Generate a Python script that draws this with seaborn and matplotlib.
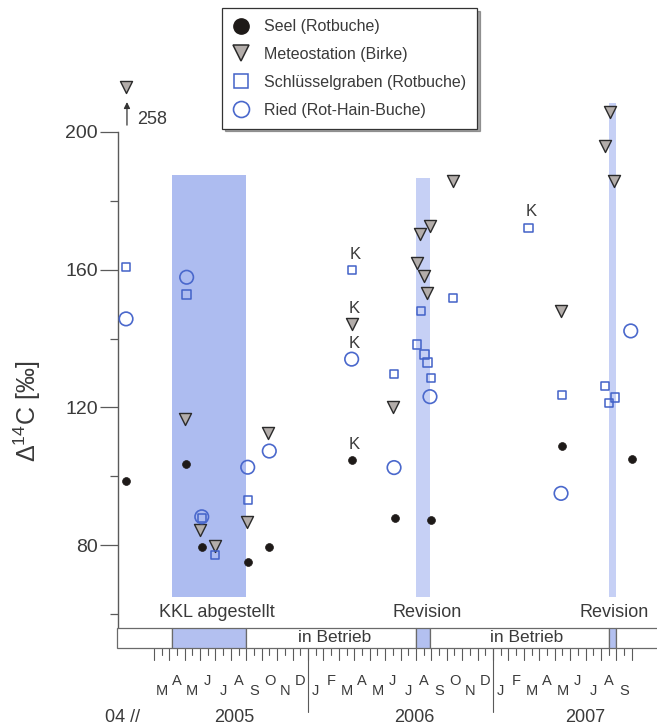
import numpy as np
import pandas as pd
import matplotlib
matplotlib.use("Agg")
import matplotlib.pyplot as plt
from matplotlib.lines import Line2D
from matplotlib.patches import Rectangle
import seaborn as sns

sns.set_theme(style="white")
plt.rcParams["font.family"] = ["Liberation Sans", "DejaVu Sans"]
plt.rcParams["mathtext.default"] = "regular"

# Time axis in months since 1 Jan 2005; the 2004 sample sits just right of the axis break.
seel_t = [0.2, 4.09, 5.11, 8.09, 9.49, 14.83, 17.64, 19.96, 28.47, 32.98]
seel_v = [98.7, 103.4, 79.3, 75.2, 79.5, 104.7, 87.8, 87.4, 108.8, 104.9]

meteo_t = [0.2, 4.02, 5.0, 5.97, 8.02, 9.43, 14.83, 17.53, 19.05, 19.26, 19.52,
           19.74, 19.91, 21.38, 28.41, 31.26, 31.58, 31.84]
meteo_v = [258, 116.5, 84.4, 79.7, 86.8, 112.6, 144.1, 120.2, 162.0, 170.4, 158.2,
           153.3, 172.7, 185.9, 148.1, 195.9, 205.9, 185.9]

schl_t = [0.2, 4.13, 5.13, 5.97, 8.09, 14.87, 17.58, 19.09, 19.33, 19.55, 19.76,
          19.96, 21.42, 26.29, 28.47, 31.26, 31.54, 31.9]
schl_v = [160.7, 152.8, 87.9, 77.1, 93.1, 159.9, 129.6, 138.3, 148.0, 135.4, 133.0,
          128.6, 151.7, 172.2, 123.6, 126.2, 121.2, 122.9]

ried_t = [0.2, 4.13, 5.11, 8.09, 9.49, 14.83, 17.58, 19.91, 28.41, 32.93]
ried_v = [145.7, 157.8, 88.2, 102.6, 107.3, 134.0, 102.5, 123.1, 95.0, 142.2]

# Samples marked "K"
k_t = [14.87, 14.83, 14.83, 14.83, 26.29]
k_v = [159.9, 144.1, 134.0, 104.7, 172.2]

# Reactor shutdown periods (start, end in months), shading top and label
off_start = [3.15, 19.0, 31.5]
off_end = [8.0, 19.9, 32.0]
off_top = [187.5, 186.6, 208.5]
off_label = ["KKL abgestellt", "Revision", "Revision"]
off_label_t = [6.1, 19.7, 31.85]
off_colors = ["#adbcf0", "#c6d0f5", "#c6d0f5"]
band_bottom = 64.8

on_label_t = [13.7, 26.2]

months = "JFMAMJJASOND"
years = ["2005", "2006", "2007"]
year_label_t = [7.2, 18.9, 30.0]

cap = 213.0  # values above are drawn at the cap with an arrow

W, H = 657, 726
fig = plt.figure(figsize=(W / 100, H / 100), dpi=100)
fig.patch.set_facecolor("white")


def px_axes(left, top, right, bottom):
    return fig.add_axes([left / W, 1 - bottom / H, (right - left) / W, (bottom - top) / H])


def y_val(row):
    return 200 - (row - 132) / 3.4417


def t_val(col):
    return 12 + (col - 308) / 15.42


ax = px_axes(118, 20, 657, 628)
xlim = (t_val(118), t_val(657))
ax.set_xlim(*xlim)
ax.set_ylim(y_val(628), y_val(20))
ax.set_facecolor("white")

txt = "#3a3a3a"
line_c = "#5a5a5a"

# shading for shutdown periods
for s, e, top, col in zip(off_start, off_end, off_top, off_colors):
    ax.fill_between([s, e], band_bottom, top, color=col, lw=0, zorder=1)
for lt, lab in zip(off_label_t, off_label):
    ax.text(lt, y_val(613), lab, ha="center", va="center", fontsize=13, color=txt)

meteo_plot = np.minimum(np.array(meteo_v, dtype=float), cap)

sns.scatterplot(x=seel_t, y=seel_v, ax=ax, marker="o", s=32, color="#1e1a18",
                edgecolor="#1e1a18", linewidth=0.5, zorder=4, legend=False)
sns.scatterplot(x=meteo_t, y=meteo_plot, ax=ax, marker="v", s=75, color="#b3adaa",
                edgecolor="#2a2a2a", linewidth=1.0, zorder=4, legend=False)
sns.scatterplot(x=schl_t, y=schl_v, ax=ax, marker="s", s=36, color="#4262c8",
                facecolor="none", edgecolor="#4262c8", linewidth=1.1, zorder=4, legend=False)
sns.scatterplot(x=ried_t, y=ried_v, ax=ax, marker="o", s=95, color="#4a68cc",
                facecolor="none", edgecolor="#4a68cc", linewidth=1.2, zorder=4, legend=False)

# off-scale values
for t, v in zip(meteo_t, meteo_v):
    if v > cap:
        ax.annotate("", xy=(t + 0.06, cap - 4.3), xytext=(t + 0.06, cap - 11),
                    arrowprops=dict(arrowstyle="-|>", color="#333333", lw=0.9,
                                    mutation_scale=9, shrinkA=0, shrinkB=0))
        ax.text(t + 0.7, cap - 9.5, f"{v:g}", ha="left", va="center", fontsize=13, color=txt)

for t, v in zip(k_t, k_v):
    ax.annotate("K", xy=(t, v), xytext=(2, 11.5), textcoords="offset points",
                ha="center", va="center", fontsize=12, color=txt)

# y axis
for side in ["top", "right", "bottom"]:
    ax.spines[side].set_visible(False)
ax.spines["left"].set_color(line_c)
ax.spines["left"].set_linewidth(1.0)
ax.spines["left"].set_bounds(y_val(628), 200)
ax.set_yticks([80, 120, 160, 200])
ax.set_yticks([60, 100, 140, 180], minor=True)
ax.tick_params(axis="y", which="major", left=True, length=13, width=0.9, color=line_c,
               labelsize=14, labelcolor=txt, pad=1.5)
ax.tick_params(axis="y", which="minor", left=True, length=6, width=0.9, color=line_c)
ax.set_xticks([])
ax.grid(False)
ax.set_xlabel("")
ax.set_ylabel("")
fig.text(27 / W, 1 - 411 / H, "Δ$^{14}$C [‰]", rotation=90, ha="center", va="center",
         fontsize=18, color=txt)

# timeline strip below the plot (y measured in pixel rows)
tl = px_axes(118, 628, 657, 726)
tl.set_xlim(*xlim)
tl.set_ylim(726, 628)
tl.axis("off")

bounds = [t_val(117)] + [b for pair in zip(off_start, off_end) for b in pair] + [xlim[1] + 1]
for i in range(len(bounds) - 1):
    is_off = i % 2 == 1
    tl.add_patch(Rectangle((bounds[i], 628.5), bounds[i + 1] - bounds[i], 19.5,
                           facecolor="#b3c0f0" if is_off else "white",
                           edgecolor="#6a6a6a", lw=0.9, clip_on=False, zorder=2))
for lt in on_label_t:
    tl.text(lt, 638, "in Betrieb", ha="center", va="center", fontsize=12.5,
            color=txt, zorder=3)

# half-month ticks
for k in range(2 * 2, 2 * 33 + 1):
    t = k / 2
    tl.plot([t, t], [648, 660 if k % 2 == 0 else 655], color=line_c, lw=0.8,
            clip_on=False, zorder=1)
# year separators
for t in [12, 24]:
    tl.plot([t, t], [648, 712], color=line_c, lw=0.8, clip_on=False, zorder=1)
# month letters, staggered
for m in range(2, 33):
    tl.text(m + 0.5, 691 if m % 2 == 0 else 681, months[m % 12], ha="center",
            va="center", fontsize=10.5, color=txt)
for yt, yl in zip(year_label_t, years):
    tl.text(yt, 718, yl, ha="center", va="center", fontsize=13, color=txt)
tl.text(t_val(123), 718, "04 //", ha="center", va="center", fontsize=13, color=txt,
        clip_on=False)

# legend
handles = [
    Line2D([], [], ls="none", marker="o", markersize=11, mfc="#1e1a18", mec="#1e1a18"),
    Line2D([], [], ls="none", marker="v", markersize=12, mfc="#b3adaa", mec="#2a2a2a", mew=1.1),
    Line2D([], [], ls="none", marker="s", markersize=9.5, mfc="none", mec="#4262c8", mew=1.1),
    Line2D([], [], ls="none", marker="o", markersize=11.5, mfc="none", mec="#4a68cc", mew=1.2),
]
labels = ["Seel (Rotbuche)", "Meteostation (Birke)", "Schlüsselgraben (Rotbuche)",
          "Ried (Rot-Hain-Buche)"]
leg = fig.legend(handles, labels, loc="upper left", bbox_to_anchor=(222 / W, 1 - 8 / H),
                 frameon=True, fancybox=False, shadow=True, fontsize=11.5, borderpad=0.7,
                 labelspacing=0.8, handletextpad=0.9, handlelength=1.0, borderaxespad=0)
leg.get_frame().set_edgecolor("#333333")
leg.get_frame().set_linewidth(0.9)
for t in leg.get_texts():
    t.set_color(txt)

fig.savefig("out.png", dpi=100, facecolor="white")
